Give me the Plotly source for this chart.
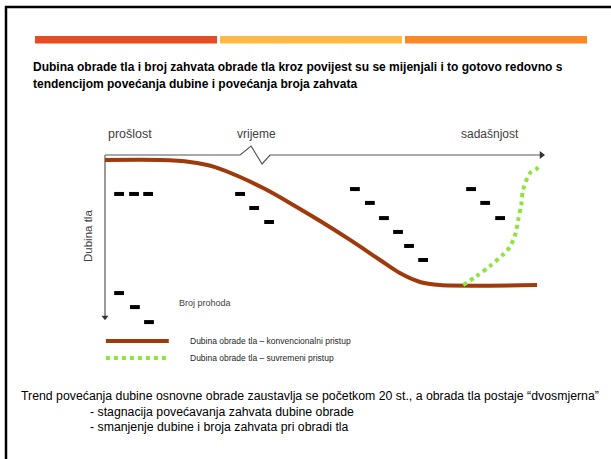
import plotly.graph_objects as go

W, H = 611, 459

# Diagram scale: time 0..100 along the top axis, depth 0..100 downward
T0_PX, T_PX_PER_UNIT = 105, 4.4
D0_PX, D_PX_PER_UNIT = 155, 1.63

# Conventional tillage depth over time
conv_time = [0, 12.5, 19.3, 25.0, 30.7, 36.4, 42.0, 48.9, 55.7, 62.5, 67.0, 71.6, 76.1, 98.2]
conv_depth = [3.1, 3.1, 4.3, 7.4, 13.5, 20.9, 29.4, 40.5, 52.1, 64.4, 72.4, 77.9, 79.8, 79.8]

# Modern (reduced) tillage depth over time
mod_time = [81.4, 84.5, 87.5, 90.4, 92.0, 93.2, 93.9, 94.6, 95.0, 96.6, 98.0, 99.1]
mod_depth = [79.8, 74.2, 68.1, 61.3, 56.4, 49.1, 39.9, 30.7, 21.5, 11.0, 8.6, 6.1]

# Number of passes, shown as short dashes in four eras
passes_time = [3.2, 6.6, 9.8,
               30.7, 33.9, 37.3,
               56.8, 60.2, 63.4, 66.6, 69.1, 72.3,
               83.2, 86.4, 89.8]
passes_depth = [23.9, 23.9, 23.9,
                23.9, 32.5, 41.1,
                20.9, 29.4, 38.7, 47.2, 55.8, 64.4,
                20.9, 29.4, 38.7]

# Key sample for "Broj prohoda"
key_passes_time = [3.2, 6.8, 10.0]
key_passes_depth = [84.7, 93.3, 102.5]

# Time axis with a break mark
axis_time = [0, 30.7, 33.2, 35.7, 37.5, 99.0]
axis_depth = [0, 0, -5.5, 5.5, 0, 0]

BROWN = "#9e3a0b"
GREEN = "#8ee43c"
FONT = "Liberation Sans, Arial, sans-serif"


def px(x):
    return x / W


def py(y):
    return 1 - y / H


fig = go.Figure()

# time axis
fig.add_trace(go.Scatter(x=axis_time, y=axis_depth, mode="lines",
                         line=dict(color="#555555", width=1.2), hoverinfo="skip"))
fig.add_trace(go.Scatter(x=[99.2], y=[0], mode="markers",
                         marker=dict(symbol="triangle-right", size=7, color="#333333"),
                         hoverinfo="skip"))
# depth axis
fig.add_trace(go.Scatter(x=[0, 0], y=[0, 99], mode="lines",
                         line=dict(color="#9a9a9a", width=2), hoverinfo="skip"))
fig.add_trace(go.Scatter(x=[0], y=[99.5], mode="markers",
                         marker=dict(symbol="triangle-down", size=6, color="#333333"),
                         hoverinfo="skip"))

# conventional depth curve
fig.add_trace(go.Scatter(x=conv_time, y=conv_depth, mode="lines",
                         line=dict(color=BROWN, width=4, shape="spline", smoothing=0.8),
                         hoverinfo="skip"))
# modern depth curve
fig.add_trace(go.Scatter(x=mod_time, y=mod_depth, mode="lines",
                         line=dict(color=GREEN, width=4, dash="dot", shape="spline",
                                   smoothing=0.8),
                         hoverinfo="skip"))

# passes
dash_marker = dict(symbol="line-ew", size=7, line=dict(color="black", width=4))
fig.add_trace(go.Scatter(x=passes_time, y=passes_depth, mode="markers",
                         marker=dash_marker, hoverinfo="skip"))
fig.add_trace(go.Scatter(x=key_passes_time, y=key_passes_depth, mode="markers",
                         marker=dash_marker, hoverinfo="skip"))

# key lines
fig.add_trace(go.Scatter(x=[0.2, 14.5], y=[114.1, 114.1], mode="lines",
                         line=dict(color=BROWN, width=4), hoverinfo="skip"))
fig.add_trace(go.Scatter(x=[0.2, 14.5], y=[124.5, 124.5], mode="lines",
                         line=dict(color=GREEN, width=4, dash="dot"), hoverinfo="skip"))

shapes = [
    # slide frame
    dict(type="line", xref="paper", yref="paper", x0=px(5), x1=px(611), y0=py(7), y1=py(7),
         line=dict(color="black", width=2.5)),
    dict(type="line", xref="paper", yref="paper", x0=px(6), x1=px(6), y0=py(6), y1=py(459),
         line=dict(color="black", width=2.5)),
]
bar_spans = [(35, 217, "#e64b24"), (220, 402, "#ffb944"), (405, 587, "#fd8726")]
for x0, x1, c in bar_spans:
    shapes.append(dict(type="rect", xref="paper", yref="paper", x0=px(x0), x1=px(x1),
                       y0=py(43.5), y1=py(36), fillcolor=c, line=dict(width=0)))


def label(text, x, y, size, bold=False, anchor="left", color="#262626", angle=0):
    return dict(text=f"<b>{text}</b>" if bold else text, xref="paper", yref="paper",
                x=px(x), y=py(y), xanchor=anchor, yanchor="middle", showarrow=False,
                textangle=angle, font=dict(family=FONT, size=size, color=color))


annotations = [
    label("Dubina obrade tla i broj zahvata obrade tla kroz povijest su se mijenjali i to gotovo redovno s",
          31, 67, 12, bold=True, color="black"),
    label("tendencijom povećanja dubine i povećanja broja zahvata", 31, 84, 12, bold=True,
          color="black"),
    label("prošlost", 106, 134, 12.5, color="#404040"),
    label("vrijeme", 256, 134, 12, anchor="center", color="#404040"),
    label("sadašnjost", 459, 134, 12, color="#404040"),
    label("Dubina tla", 88, 236, 11.5, anchor="center", color="#404040", angle=-90),
    label("Broj prohoda", 177, 303, 9, color="#404040"),
    label("Dubina obrade tla – konvencionalni pristup", 188, 341, 8.5, color="#262626"),
    label("Dubina obrade tla – suvremeni pristup", 188, 358, 8.5, color="#262626"),
    label("Trend povećanja dubine osnovne obrade zaustavlja se početkom 20 st., a obrada tla postaje “dvosmjerna”",
          19, 396, 12.3, color="black"),
    label("- stagnacija povećavanja zahvata dubine obrade", 88, 412, 12.3, color="black"),
    label("- smanjenje dubine i broja zahvata pri obradi tla", 88, 427, 12.3, color="black"),
]

t_min = (0 - T0_PX) / T_PX_PER_UNIT
t_max = (W - T0_PX) / T_PX_PER_UNIT
d_min = (0 - D0_PX) / D_PX_PER_UNIT
d_max = (H - D0_PX) / D_PX_PER_UNIT

fig.update_layout(
    width=W, height=H, margin=dict(l=0, r=0, t=0, b=0),
    paper_bgcolor="white", plot_bgcolor="white", showlegend=False,
    xaxis=dict(range=[t_min, t_max], domain=[0, 1], visible=False, fixedrange=True),
    yaxis=dict(range=[d_max, d_min], domain=[0, 1], visible=False, fixedrange=True),
    shapes=shapes, annotations=annotations,
)

fig.write_html("out.html", config={"displayModeBar": False})
